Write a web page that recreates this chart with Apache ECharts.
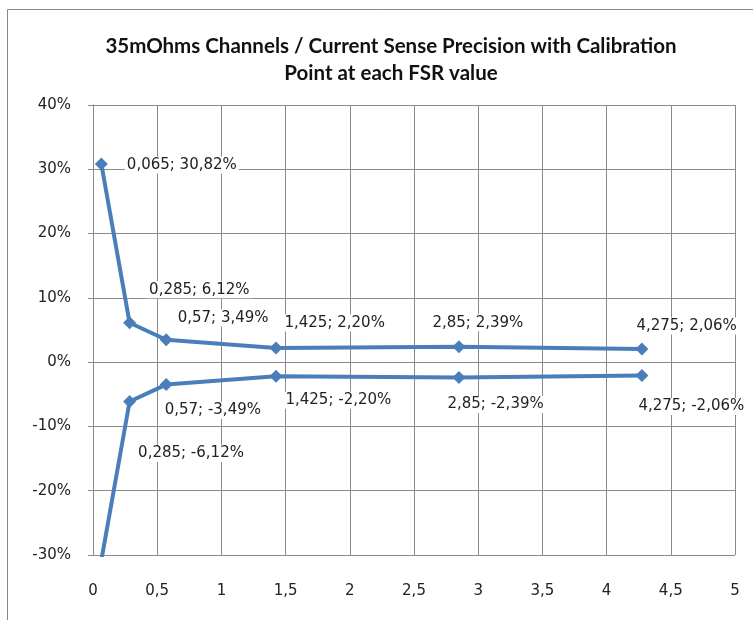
<!DOCTYPE html>
<html>
<head>
<meta charset="utf-8">
<script src="https://cdn.jsdelivr.net/npm/echarts@6/dist/echarts.min.js"></script>
<style>
html, body { margin: 0; padding: 0; background: #fff; }
#chart { width: 753px; height: 620px; }
</style>
</head>
<body>
<div id="chart"></div>
<script>
// FSR values (A) and precision (%)
var fsr = [0.065, 0.285, 0.57, 1.425, 2.85, 4.275];
var upperPct = [30.82, 6.12, 3.49, 2.20, 2.39, 2.06];
var lowerPct = [-30.82, -6.12, -3.49, -2.20, -2.39, -2.06];

// manual label placement, like the moved Excel labels
var upperOffsets = [[12, 1], [6, -33], [-2, -22], [-5, -25], [-40, -24], [-19, -23]];
var lowerOffsets = [[0, 0], [-5, 52], [-15, 26], [-4, 24], [-25, 27], [-17, 31]];

function comma(v, d) {
    var s = d == null ? String(v) : v.toFixed(d);
    return s.replace('.', ',');
}

function buildData(ys, offsets) {
    var d = [];
    for (var i = 0; i < fsr.length; i++) {
        d.push({
            value: [fsr[i], ys[i]],
            label: { offset: offsets[i] }
        });
    }
    return d;
}

function draw_chart(id) {
    var myChart = echarts.init(document.getElementById(id));
    var blue = '#4a7ebb';
    var labelStyle = {
        show: true,
        position: 'right',
        distance: 5,
        fontFamily: 'DejaVu Sans',
        fontSize: 15,
        color: '#222',
        backgroundColor: '#fff',
        padding: [1, 2],
        formatter: function (p) {
            return comma(p.value[0]) + '; ' + comma(p.value[1], 2) + '%';
        }
    };
    var option = {
        animation: false,
        backgroundColor: '#fff',
        graphic: [{
            type: 'rect',
            shape: { x: 7.5, y: 9.5, width: 760, height: 630 },
            style: { fill: 'none', stroke: '#888', lineWidth: 1 },
            z: -1
        }],
        title: {
            text: '35mOhms Channels / Current Sense Precision with Calibration\nPoint at each FSR value',
            left: 386,
            textAlign: 'center',
            top: 28,
            textStyle: {
                fontFamily: 'Lato',
                fontWeight: 'bold',
                fontSize: 20.5,
                lineHeight: 27,
                color: '#111'
            }
        },
        grid: { left: 93, right: 18, top: 105, bottom: 65 },
        xAxis: {
            type: 'value',
            min: 0, max: 5, interval: 0.5,
            axisLine: { show: true, lineStyle: { color: '#888', width: 1 } },
            axisTick: { show: true, length: 5, lineStyle: { color: '#888' } },
            splitLine: { show: true, lineStyle: { color: '#8a8a8a', width: 1 } },
            axisLabel: {
                margin: 29,
                fontFamily: 'DejaVu Sans',
                fontSize: 15,
                color: '#222',
                formatter: function (v) { return comma(v); }
            }
        },
        yAxis: {
            type: 'value',
            min: -30, max: 40, interval: 10,
            axisLine: { show: true, lineStyle: { color: '#888', width: 1 } },
            axisTick: { show: true, length: 5, lineStyle: { color: '#888' } },
            splitLine: { show: true, lineStyle: { color: '#8a8a8a', width: 1 } },
            axisLabel: {
                margin: 22,
                fontFamily: 'DejaVu Sans',
                fontSize: 15,
                color: '#222',
                formatter: function (v) { return v + '%'; }
            }
        },
        series: [
            {
                name: 'upper',
                type: 'line',
                data: buildData(upperPct, upperOffsets),
                symbol: 'diamond',
                symbolSize: 13,
                showAllSymbol: true,
                lineStyle: { color: blue, width: 4 },
                itemStyle: { color: blue },
                label: labelStyle
            },
            {
                name: 'lower',
                type: 'line',
                data: buildData(lowerPct, lowerOffsets),
                symbol: 'diamond',
                symbolSize: 13,
                showAllSymbol: true,
                clip: true,
                lineStyle: { color: blue, width: 4 },
                itemStyle: { color: blue },
                label: labelStyle
            }
        ]
    };
    myChart.setOption(option);
}

draw_chart('chart');
</script>
</body>
</html>
